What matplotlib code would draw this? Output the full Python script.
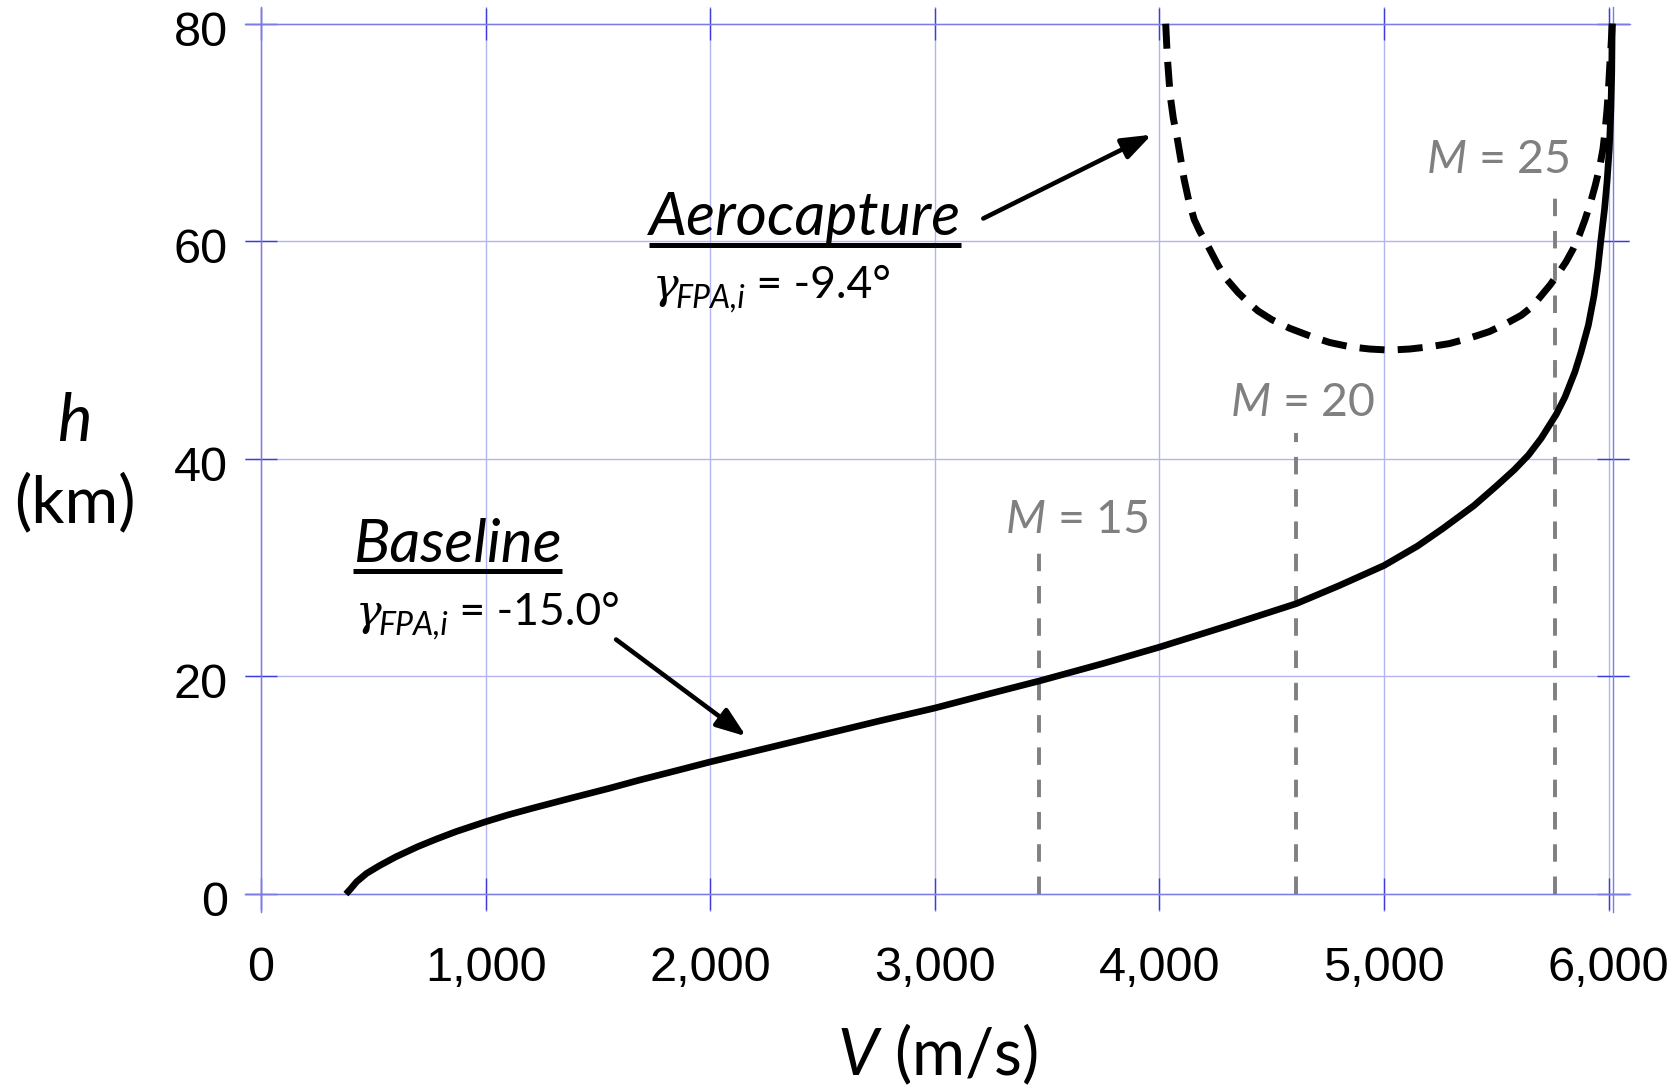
import matplotlib
matplotlib.use("Agg")
import matplotlib.pyplot as plt
from matplotlib.ticker import FuncFormatter
from matplotlib.lines import Line2D
from matplotlib.transforms import IdentityTransform, ScaledTranslation

plt.rcParams['font.family'] = ['Lato', 'DejaVu Sans']
plt.rcParams['mathtext.fontset'] = 'custom'
plt.rcParams['mathtext.it'] = 'Lato:italic'
plt.rcParams['mathtext.rm'] = 'Lato'
plt.rcParams['mathtext.bf'] = 'Lato:bold'

# ---------------- data ----------------
baseline_V = [378, 400, 426, 470, 528, 600, 698, 780, 869, 1000, 1100, 1210, 1380,
              1550, 1687, 1850, 2000, 2250, 2500, 2750, 3000, 3250, 3467, 3750,
              4000, 4310, 4610, 4800, 5000, 5150, 5262, 5400, 5500, 5580, 5643,
              5700, 5767, 5806, 5850, 5877, 5910, 5935, 5952, 5965, 5982, 5993,
              6003, 6010, 6014, 6016]
baseline_h = [0, 0.5, 1.14, 1.9, 2.62, 3.42, 4.36, 5.05, 5.75, 6.65, 7.28, 7.9, 8.82,
              9.72, 10.49, 11.35, 12.15, 13.4, 14.65, 15.9, 17.1, 18.45, 19.6, 21.2,
              22.7, 24.7, 26.7, 28.35, 30.2, 32.0, 33.6, 35.7, 37.5, 39.0, 40.35,
              41.9, 44.1, 45.7, 48.0, 49.8, 52.3, 55.0, 57.5, 60.0, 63.0, 65.5,
              68.5, 72.0, 75.5, 80.0]

aero_V = [4028, 4035, 4048, 4062, 4080, 4110, 4130, 4155, 4180, 4208, 4261, 4300,
          4350, 4400, 4439, 4500, 4581, 4670, 4758, 4850, 4936, 5025, 5114, 5200,
          5291, 5380, 5469, 5540, 5611, 5660, 5700, 5740, 5771, 5810, 5842, 5870,
          5895, 5920, 5940, 5960, 5975, 5985, 5993, 6000, 6005, 6011, 6016]
aero_h = [80, 77, 73.4, 71.3, 69.4, 65.7, 63.8, 62.0, 60.9, 59.9, 57.8, 56.5,
          55.3, 54.3, 53.6, 52.8, 52.0, 51.3, 50.7, 50.3, 50.1, 50.0, 50.1, 50.3,
          50.6, 51.1, 51.7, 52.4, 53.2, 54.0, 55.0, 56.0, 56.9, 58.1, 59.3, 60.6,
          62.0, 63.6, 65.1, 66.8, 68.5, 70.3, 72.1, 74.2, 76.1, 78.0, 80]

mach_numbers = [15, 20, 25]
mach_V = [3463, 4609, 5761]
mach_h_top = [31.6, 42.4, 64.8]

gamma_baseline = '-15.0°'
gamma_aero = '-9.4°'

x_ticks = [0, 1000, 2000, 3000, 4000, 5000, 6000]
y_ticks = [0, 20, 40, 60, 80]

# layout (positions of annotations)
mach_label_xy = [(3631, 33.2), (4636, 43.9), (5509, 66.25)]

# ---------------- figure ----------------
W, H = 1675, 1088
fig = plt.figure(figsize=(W / 100, H / 100), dpi=100)
ax = fig.add_axes([244.6 / W, 1 - 911.5 / H, (1629.5 - 244.6) / W, (911.5 - 7.4) / H])
ax.set_xlim(-73, 6093)
ax.set_ylim(-1.6, 81.5)

grid_c = '#b4b4f0'
spine_c = '#7c7ce6'
tick_c = '#3c3cdc'
ax.set_axisbelow(True)
ax.grid(True, color=grid_c, lw=1.0)
ax.spines['left'].set_position(('data', 0))
ax.spines['bottom'].set_position(('data', 0))
ax.spines['top'].set_position(('data', 80))
ax.spines['right'].set_position(('data', 6018))
for s in ax.spines.values():
    s.set_color(spine_c)
    s.set_linewidth(1.0)

ax.set_xticks(x_ticks)
ax.set_yticks(y_ticks)
ax.xaxis.set_major_formatter(FuncFormatter(lambda v, p: f'{int(v):,}'))
ax.tick_params(direction='inout', length=23.5, width=1.0, color=tick_c,
               top=True, right=True, labeltop=False, labelright=False,
               labelsize=35, labelfontfamily='Liberation Sans', labelcolor='black')
ax.tick_params(axis='x', pad=25.5)
ax.tick_params(axis='y', pad=12)
shift = ScaledTranslation(0, -4.5 / 100, fig.dpi_scale_trans)
for lbl in ax.get_yticklabels():
    lbl.set_transform(lbl.get_transform() + shift)

# curves
ax.plot(baseline_V, baseline_h, color='black', lw=4.8, solid_capstyle='butt',
        solid_joinstyle='round', zorder=5)
ax.plot(aero_V, aero_h, color='black', lw=5.0, dashes=(3.6, 1.9),
        dash_capstyle='butt', zorder=5)

# Mach lines
ax.vlines(mach_V, 0, mach_h_top, colors='#808080', lw=2.8,
          linestyles=(0, (4.5, 3.8)), zorder=4)
for m, (lx, ly) in zip(mach_numbers, mach_label_xy):
    ax.text(lx, ly, rf'$\mathit{{M}}$ = {m}', ha='center', va='baseline',
            fontsize=33.5, color='#808080')


def gamma_label(x, y, value):
    g = ax.text(x, y, 'γ', family='DejaVu Serif', fontstyle='italic', fontsize=31,
                va='baseline', ha='left')
    s = ax.annotate('FPA,i', xy=(1, 0), xycoords=g, xytext=(-2.5, 0),
                    textcoords='offset points', fontsize=23, fontstyle='italic',
                    va='baseline', ha='left')
    ax.annotate(f' = {value}', xy=(1, y), xycoords=(s, 'data'), fontsize=32,
                va='baseline', ha='left')


# annotations
t_aero = ax.text(1729, 60.58, 'Aerocapture', fontsize=43.5, fontstyle='italic',
                 va='baseline', ha='left')
gamma_label(1745, 54.76, gamma_aero)
t_base = ax.text(411, 30.55, 'Baseline', fontsize=43.5, fontstyle='italic',
                 va='baseline', ha='left')
gamma_label(423, 24.7, gamma_baseline)

arrow_kw = dict(arrowstyle='-|>,head_length=0.9,head_width=0.33', lw=3.3,
                color='black', mutation_scale=20, shrinkA=0, shrinkB=0)
ax.annotate('', xy=(2160, 14.5), xytext=(1581, 23.4), arrowprops=arrow_kw)
ax.annotate('', xy=(3966, 69.8), xytext=(3216, 62.1), arrowprops=arrow_kw)

# axis labels
fig.text(73.5 / W, 1 - 441 / H, r'$\mathit{h}$', fontsize=47, ha='center', va='baseline')
fig.text(75 / W, 1 - 522 / H, '(km)', fontsize=47, ha='center', va='baseline')
fig.text(938 / W, 1 - 1075 / H, r'$\mathit{V}$ (m/s)', fontsize=46.5, ha='center',
         va='baseline')

# underlines under the two titles
fig.canvas.draw()
renderer = fig.canvas.get_renderer()
for t in (t_aero, t_base):
    bb = t.get_window_extent(renderer)
    _, yb = ax.transData.transform(t.get_position())
    yl = yb - 9.5
    fig.add_artist(Line2D([bb.x0, bb.x1], [yl, yl], transform=IdentityTransform(),
                          color='black', lw=3.6, solid_capstyle='butt'))

fig.savefig('out.png', dpi=100)
